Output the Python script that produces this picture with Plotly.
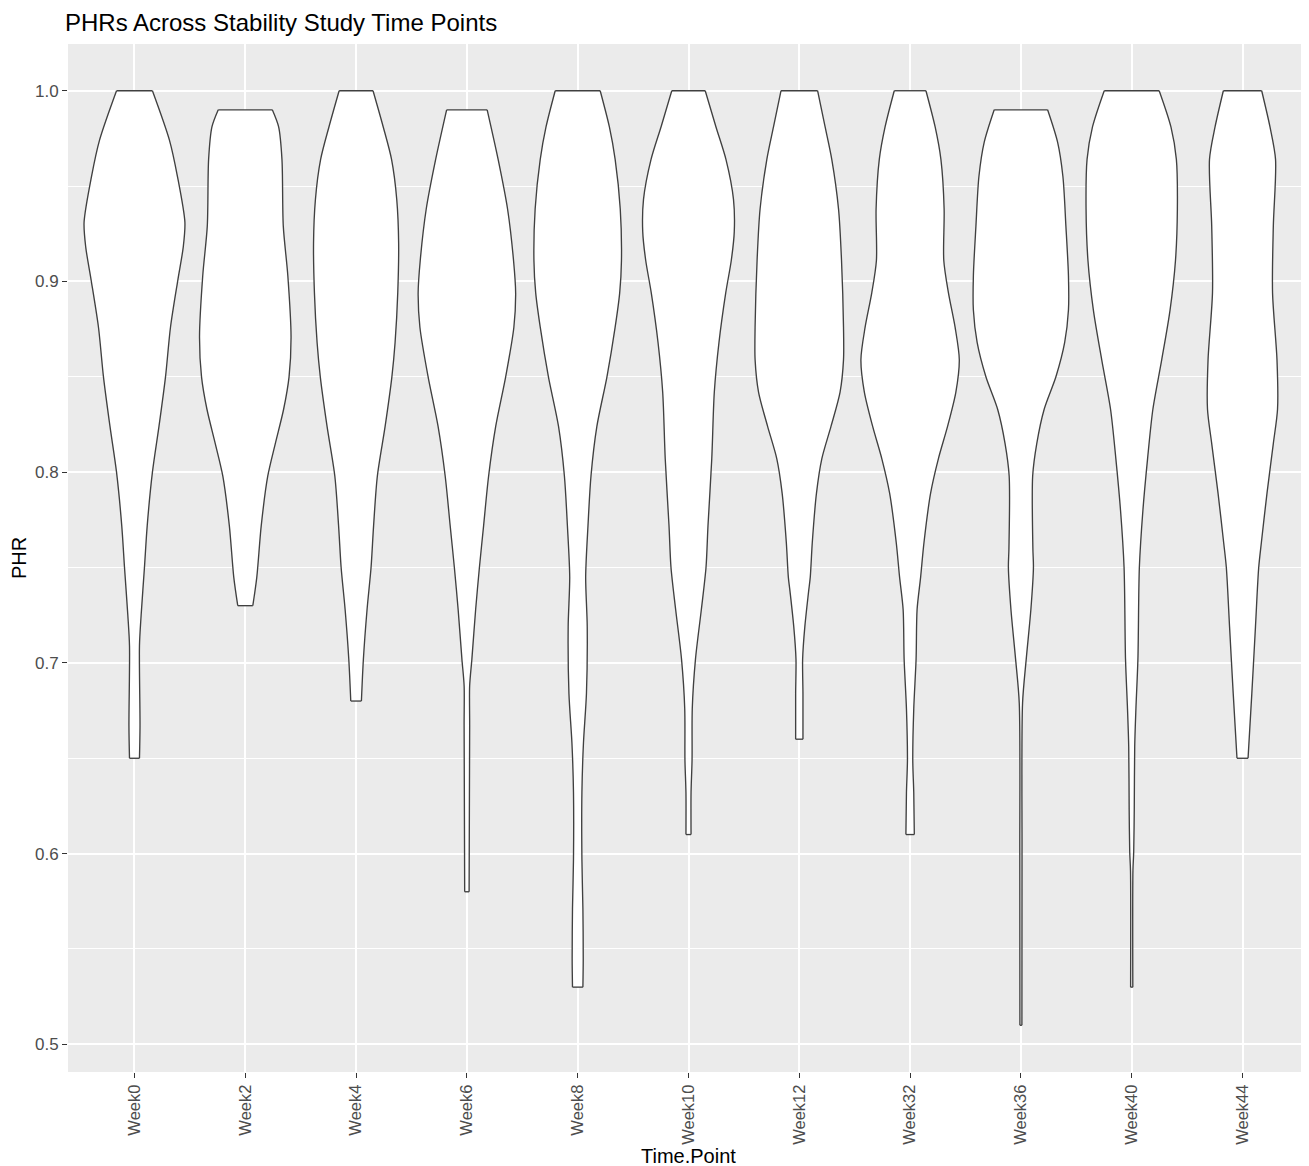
import plotly.graph_objects as go

# Categories (x axis)
TIME_POINTS = ["Week0", "Week2", "Week4", "Week6", "Week8", "Week10",
               "Week12", "Week32", "Week36", "Week40", "Week44"]

# Violin outlines: PHR levels (top -> bottom) and
# half-width of the violin at each level (in category-axis units)
week0_phr = [1.0, 0.974, 0.955, 0.931, 0.918, 0.901, 0.876, 0.85, 0.824, 0.80, 0.772, 0.75, 0.725, 0.709, 0.667, 0.65]
week0_hw = [0.162, 0.316, 0.388, 0.455, 0.440, 0.392, 0.325, 0.280, 0.221, 0.162, 0.115, 0.090, 0.060, 0.045, 0.050, 0.045]

week2_phr = [0.99, 0.981, 0.964, 0.929, 0.903, 0.871, 0.85, 0.833, 0.815, 0.798, 0.772, 0.745, 0.73]
week2_hw = [0.244, 0.301, 0.331, 0.343, 0.384, 0.413, 0.395, 0.346, 0.271, 0.203, 0.144, 0.104, 0.068]

week4_phr = [1.0, 0.981, 0.964, 0.943, 0.92, 0.894, 0.868, 0.85, 0.824, 0.798, 0.772, 0.75, 0.728, 0.702, 0.68]
week4_hw = [0.153, 0.245, 0.320, 0.367, 0.384, 0.376, 0.352, 0.323, 0.262, 0.192, 0.158, 0.135, 0.099, 0.066, 0.048]

week6_phr = [0.99, 0.964, 0.938, 0.911, 0.894, 0.876, 0.85, 0.824, 0.798, 0.772, 0.75, 0.728, 0.702, 0.688, 0.667, 0.58]
week6_hw = [0.183, 0.282, 0.367, 0.421, 0.440, 0.424, 0.350, 0.260, 0.196, 0.151, 0.113, 0.079, 0.045, 0.025, 0.025, 0.020]

week8_phr = [1.0, 0.981, 0.964, 0.938, 0.911, 0.894, 0.876, 0.85, 0.824, 0.798, 0.772, 0.745, 0.719, 0.684, 0.658, 0.632, 0.597, 0.571, 0.545, 0.53]
week8_hw = [0.203, 0.286, 0.338, 0.384, 0.395, 0.379, 0.338, 0.264, 0.173, 0.120, 0.093, 0.072, 0.086, 0.079, 0.052, 0.038, 0.038, 0.047, 0.050, 0.047]

week10_phr = [1.0, 0.981, 0.964, 0.943, 0.926, 0.911, 0.894, 0.868, 0.842, 0.807, 0.772, 0.75, 0.728, 0.702, 0.676, 0.649, 0.632, 0.61]
week10_hw = [0.151, 0.248, 0.338, 0.406, 0.413, 0.386, 0.336, 0.275, 0.233, 0.210, 0.176, 0.158, 0.116, 0.063, 0.034, 0.032, 0.023, 0.023]

week12_phr = [1.0, 0.981, 0.964, 0.938, 0.911, 0.876, 0.859, 0.842, 0.824, 0.807, 0.789, 0.763, 0.745, 0.737, 0.719, 0.702, 0.684, 0.66]
week12_hw = [0.165, 0.233, 0.293, 0.354, 0.381, 0.399, 0.399, 0.368, 0.286, 0.203, 0.155, 0.117, 0.099, 0.083, 0.050, 0.030, 0.033, 0.033]

week32_phr = [1.0, 0.981, 0.964, 0.938, 0.911, 0.894, 0.876, 0.859, 0.842, 0.824, 0.807, 0.789, 0.763, 0.745, 0.728, 0.702, 0.676, 0.649, 0.632, 0.61]
week32_hw = [0.143, 0.226, 0.278, 0.307, 0.304, 0.346, 0.406, 0.444, 0.413, 0.338, 0.255, 0.185, 0.125, 0.095, 0.063, 0.054, 0.033, 0.024, 0.033, 0.038]

week36_phr = [0.99, 0.973, 0.955, 0.929, 0.903, 0.885, 0.868, 0.85, 0.833, 0.815, 0.798, 0.76, 0.75, 0.728, 0.702, 0.679, 0.60, 0.51]
week36_hw = [0.241, 0.331, 0.379, 0.406, 0.429, 0.429, 0.395, 0.316, 0.210, 0.143, 0.106, 0.108, 0.113, 0.090, 0.048, 0.015, 0.010, 0.009]

week40_phr = [1.0, 0.981, 0.964, 0.938, 0.911, 0.885, 0.859, 0.833, 0.807, 0.78, 0.75, 0.702, 0.676, 0.656, 0.623, 0.601, 0.591, 0.53]
week40_hw = [0.248, 0.354, 0.403, 0.412, 0.395, 0.346, 0.271, 0.191, 0.143, 0.101, 0.069, 0.056, 0.038, 0.027, 0.023, 0.018, 0.011, 0.010]

week44_phr = [1.0, 0.981, 0.964, 0.929, 0.894, 0.859, 0.833, 0.815, 0.789, 0.763, 0.75, 0.719, 0.684, 0.65]
week44_hw = [0.173, 0.248, 0.298, 0.278, 0.271, 0.311, 0.316, 0.278, 0.221, 0.170, 0.146, 0.117, 0.084, 0.050]

PHR_LEVELS = [week0_phr, week2_phr, week4_phr, week6_phr, week8_phr, week10_phr,
              week12_phr, week32_phr, week36_phr, week40_phr, week44_phr]
HALF_WIDTHS = [week0_hw, week2_hw, week4_hw, week6_hw, week8_hw, week10_hw,
               week12_hw, week32_hw, week36_hw, week40_hw, week44_hw]

Y_TICKS = [0.5, 0.6, 0.7, 0.8, 0.9, 1.0]
Y_TICK_LABELS = ["0.5", "0.6", "0.7", "0.8", "0.9", "1.0"]

OUTLINE = "#404040"
side_line = dict(color=OUTLINE, width=1.35, shape="spline", smoothing=0.8)

fig = go.Figure()

for i, (name, ys, hws) in enumerate(zip(TIME_POINTS, PHR_LEVELS, HALF_WIDTHS)):
    # left edge of the violin
    fig.add_trace(go.Scatter(
        x=[i - h for h in hws], y=ys, mode="lines", line=side_line,
        name=name, showlegend=False, hoverinfo="skip",
    ))
    # right edge, filled white back to the left edge (flat trimmed ends)
    fig.add_trace(go.Scatter(
        x=[i + h for h in hws], y=ys, mode="lines", line=side_line,
        fill="tonextx", fillcolor="white",
        name=name, showlegend=False, hoverinfo="skip",
    ))
    # flat caps at the data maximum and minimum
    fig.add_trace(go.Scatter(
        x=[i - hws[0], i + hws[0], None, i - hws[-1], i + hws[-1]],
        y=[ys[0], ys[0], None, ys[-1], ys[-1]],
        mode="lines", line=dict(color=OUTLINE, width=1.35),
        name=name, showlegend=False, hoverinfo="skip",
    ))

font_family = "Liberation Sans, Arial, sans-serif"

# The page body adds an 8px offset, so the figure is 8px smaller and margins shifted
W, H = 1301, 1158

fig.update_layout(
    width=W, height=H,
    margin=dict(l=60, r=0, t=36, b=94),
    paper_bgcolor="white",
    plot_bgcolor="#EBEBEB",
    font=dict(family=font_family, color="black"),
    title=dict(
        text="PHRs Across Stability Study Time Points",
        x=57 / W, xanchor="left", xref="container",
        y=1 - 15 / H, yanchor="middle", yref="container",
        font=dict(size=24, color="black", family=font_family),
    ),
    showlegend=False,
    annotations=[dict(
        text="Time.Point", xref="paper", yref="paper", x=0.5, y=0,
        xanchor="center", yanchor="bottom", yshift=-97, showarrow=False,
        font=dict(size=20, color="black", family=font_family),
    )],
)

fig.update_xaxes(
    range=[-0.6, 10.6],
    tickmode="array",
    tickvals=list(range(len(TIME_POINTS))),
    ticktext=TIME_POINTS,
    tickangle=-90,
    ticks="outside", ticklen=5, tickwidth=1.1, tickcolor="#333333",
    tickfont=dict(size=16.5, color="#4D4D4D"),
    showgrid=True, gridcolor="white", gridwidth=1.6,
    zeroline=False, showline=False,
)

fig.update_yaxes(
    range=[0.4855, 1.0245],
    tickmode="array",
    tickvals=Y_TICKS,
    ticktext=Y_TICK_LABELS,
    ticks="outside", ticklen=5, tickwidth=1.1, tickcolor="#333333",
    tickfont=dict(size=17, color="#4D4D4D"),
    showgrid=True, gridcolor="white", gridwidth=1.6,
    minor=dict(dtick=0.05, tick0=0.5, showgrid=True, gridcolor="white", gridwidth=0.8, ticks=""),
    zeroline=False, showline=False,
    title=dict(text="PHR", font=dict(size=20, color="black"), standoff=6),
)

fig.write_html("out.html")
